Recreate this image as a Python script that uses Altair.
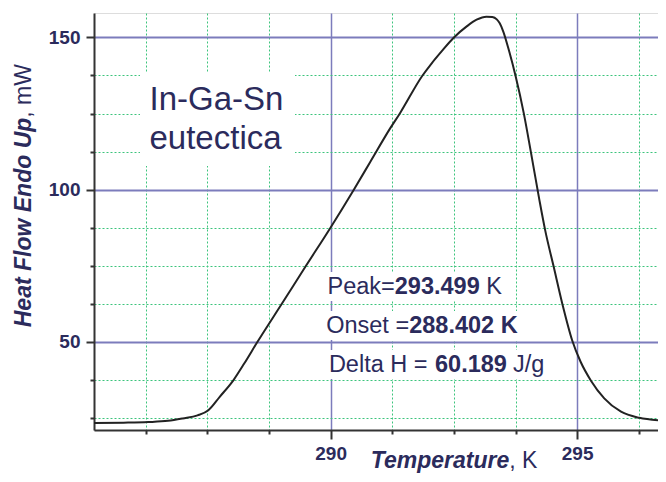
import altair as alt
import pandas as pd

# ---------------- data ----------------
temperature = [285.2, 285.8, 286.3, 286.7, 287.0, 287.3, 287.52, 287.75, 288.03,
               288.25, 288.51, 289.0, 289.5, 290.0, 290.47, 290.8, 291.21, 291.41,
               291.86, 292.05, 292.25, 292.49, 292.76, 292.96, 293.16, 293.28,
               293.37, 293.43, 293.50, 293.62, 293.75, 293.92, 294.06, 294.23,
               294.35, 294.52, 294.70, 294.90, 295.07, 295.28, 295.55, 295.89,
               296.26, 296.64]
heat_flow = [23.4, 23.5, 23.7, 24.1, 24.9, 25.9, 27.6, 32.0, 37.5,
             43.0, 49.9, 62.3, 75.0, 87.6, 100.0, 109.0, 120.2, 125.2,
             137.4, 141.5, 145.4, 149.8, 153.6, 155.8, 156.8, 156.7,
             155.9, 154.6, 152.0, 145.5, 137.4, 124.9, 112.5, 97.0,
             86.8, 75.0, 62.5, 50.5, 43.5, 37.3, 31.5, 27.1,
             25.1, 24.3]

x_ticks = [286.25, 287.5, 288.75, 290, 291.25, 292.5, 293.75, 295, 296.25]
y_ticks = [25, 37.5, 50, 62.5, 75, 87.5, 100, 112.5, 125, 137.5, 150]
x_domain = [285.2, 296.64]
y_domain = [21.1, 158]

sample_lines = ["In-Ga-Sn", "eutectica"]
peak_parts = ["Peak=", "293.499", "K"]
onset_parts = ["Onset =", "288.402 K"]
delta_parts = ["Delta H =", "60.189", "J/g"]
ytitle_parts = ["Heat Flow Endo Up", ", mW"]
xtitle_parts = ["Temperature", ", K"]

# ---------------- styling ----------------
FONT = "Liberation Sans"
NAVY = "#2b2b5c"
MAJOR = "#7c7cbc"
MINOR = "#3cc47c"
AXIS = "#333333"

df = pd.DataFrame({"T": temperature, "Q": heat_flow})

xmaj = "datum.value % 5 === 0"
ymaj = "datum.value % 50 === 0"


def cond(test, a, b):
    return {"condition": {"test": test, "value": a}, "value": b}


x_axis = alt.Axis(
    values=x_ticks, title=None, grid=True,
    gridColor=cond(xmaj, MAJOR, MINOR),
    gridDash=cond(xmaj, [], [2, 2]),
    gridWidth=cond(xmaj, 1.5, 1),
    tickSize=cond(xmaj, 9, 4),
    labelExpr=f"{xmaj} ? format(datum.value, 'd') : ''",
    labelFont=FONT, labelFontSize=19, labelFontWeight="bold", labelColor=NAVY,
    labelPadding=5, labelFlush=False, labelOverlap=False,
    domainColor=AXIS, domainWidth=2, tickColor=AXIS, tickWidth=2,
)
y_axis = alt.Axis(
    values=y_ticks, title=None, grid=True,
    gridColor=cond(ymaj, MAJOR, MINOR),
    gridDash=cond(ymaj, [], [2, 2]),
    gridWidth=cond(ymaj, 2, 1),
    tickSize=cond(ymaj, 8, 4),
    labelExpr=f"{ymaj} ? format(datum.value, 'd') : ''",
    labelFont=FONT, labelFontSize=19, labelFontWeight="bold", labelColor=NAVY,
    labelPadding=6, labelFlush=False, labelOverlap=False,
    domainColor=AXIS, domainWidth=2, tickColor=AXIS, tickWidth=2,
)

xs = alt.Scale(domain=x_domain, nice=False, zero=False)
ys = alt.Scale(domain=y_domain, nice=False, zero=False)

curve = alt.Chart(df).mark_line(
    color="#222222", strokeWidth=2, interpolate="monotone", clip=True
).encode(
    x=alt.X("T:Q", scale=xs, axis=x_axis),
    y=alt.Y("Q:Q", scale=ys, axis=y_axis),
)

one = pd.DataFrame({"k": [0]})


def box(x1, x2, y1, y2):
    return alt.Chart(one).mark_rect(color="white").encode(
        x=alt.value(x1), x2=alt.value(x2), y=alt.value(y1), y2=alt.value(y2))


def txt(s, x, y, size, weight="normal", style="normal", align="left", angle=0):
    return alt.Chart(one).mark_text(
        text=s, font=FONT, fontSize=size, fontWeight=weight, fontStyle=style,
        color=NAVY, align=align, baseline="alphabetic", angle=angle,
    ).encode(x=alt.value(x), y=alt.value(y))


layers = [
    box(46, 201, 60, 153),
    box(230, 412, 259, 288),
    box(229, 428, 298, 327),
    box(232, 455, 337, 366),
    curve,
    txt(sample_lines[0], 55.5, 97, 33),
    txt(sample_lines[1], 55.5, 136, 33),
    # Peak line
    txt(peak_parts[0], 233.5, 281.3, 23.5),
    txt(peak_parts[1], 300.8, 281.3, 23.5, weight="bold"),
    txt(peak_parts[2], 392.2, 281.3, 23.5),
    # Onset line
    txt(onset_parts[0], 232.2, 320.3, 23.5),
    txt(onset_parts[1], 315.2, 320.3, 23.5, weight="bold"),
    # Delta line
    txt(delta_parts[0], 234.9, 358.7, 23.5),
    txt(delta_parts[1], 341.0, 358.7, 23.5, weight="bold"),
    txt(delta_parts[2], 419.0, 358.7, 23.5),
    # axis titles
    txt(ytitle_parts[0], -63.3, 104.7, 23, weight="bold", style="italic", align="right", angle=270),
    txt(ytitle_parts[1], -63.3, 104.7, 23, align="left", angle=270),
    txt(xtitle_parts[0], 415.3, 455, 23, weight="bold", style="italic", align="right"),
    txt(xtitle_parts[1], 415.3, 455, 23, align="left"),
]

chart = alt.layer(*layers).properties(
    width=564, height=417,
    autosize=alt.AutoSizeParams(type="none"),
    padding={"left": 86, "top": 5, "right": 0, "bottom": 44},
).configure_view(stroke=None).configure(background="white")

chart.save("out.html", embed_options={"renderer": "svg", "actions": False})
